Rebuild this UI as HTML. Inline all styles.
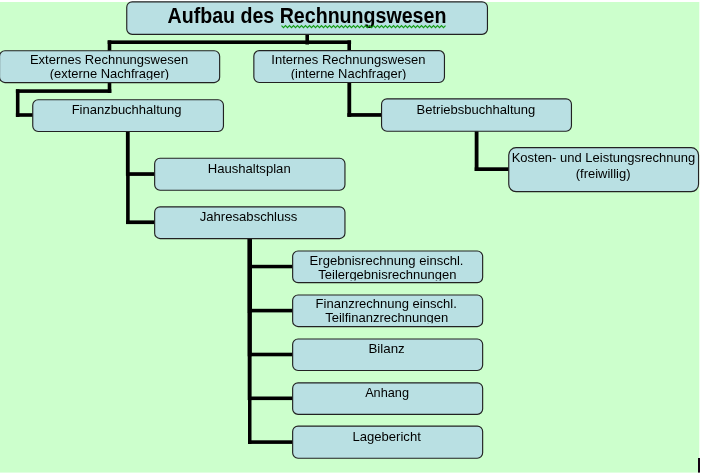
<!DOCTYPE html>
<html><head><meta charset="utf-8"><title>Aufbau des Rechnungswesen</title>
<style>
html,body{margin:0;padding:0;background:#fff;}
body{width:702px;height:476px;overflow:hidden;}
svg{display:block;will-change:transform;}
text{font-family:"Liberation Sans",sans-serif;fill:#000;}
.t{font-size:13.5px;}
.h{font-size:22px;font-weight:bold;}
.bx{fill:#b9e0e3;stroke:#222222;stroke-width:1.15;}
</style></head><body>
<svg width="702" height="476" viewBox="0 0 702 476">
<defs>
<clipPath id="c_ext"><rect x="-1.0" y="50.2" width="221.2" height="29.5"/></clipPath>
<clipPath id="c_int"><rect x="253.3" y="50.1" width="191.7" height="29.6"/></clipPath>
<clipPath id="c_erg"><rect x="292.1" y="250.4" width="191.1" height="30.2"/></clipPath>
<clipPath id="c_fir"><rect x="292.1" y="294.4" width="191.1" height="28.9"/></clipPath>
</defs>
<rect x="0" y="2" width="699.3" height="470.6" fill="#ccffcc"/>
<g fill="#000">
<rect x="305.4" y="33.5" width="3.6" height="11.0"/>
<rect x="107.7" y="40.4" width="243.4" height="3.6"/>
<rect x="107.7" y="40.4" width="3.6" height="10.5"/>
<rect x="347.4" y="40.4" width="3.6" height="10.5"/>
<rect x="107.7" y="82.0" width="3.6" height="10.9"/>
<rect x="15.9" y="89.3" width="95.4" height="3.6"/>
<rect x="15.9" y="89.3" width="3.6" height="27.6"/>
<rect x="15.9" y="113.2" width="17.0" height="3.6"/>
<rect x="347.4" y="82.0" width="3.8" height="34.8"/>
<rect x="347.4" y="113.1" width="34.2" height="3.7"/>
<rect x="125.9" y="130.8" width="3.8" height="45.0"/>
<rect x="126.1" y="175.0" width="3.6" height="49.0"/>
<rect x="126.0" y="172.2" width="28.8" height="3.7"/>
<rect x="126.1" y="220.4" width="28.6" height="3.7"/>
<rect x="474.7" y="130.6" width="3.8" height="40.4"/>
<rect x="474.7" y="167.3" width="34.2" height="3.7"/>
<rect x="247.4" y="238.2" width="4.6" height="74.2"/>
<rect x="247.5" y="312.0" width="4.4" height="44.2"/>
<rect x="247.7" y="356.0" width="3.9" height="44.1"/>
<rect x="248.0" y="400.0" width="3.5" height="44.0"/>
<rect x="248.0" y="264.8" width="44.8" height="3.5"/>
<rect x="248.0" y="308.8" width="44.8" height="3.6"/>
<rect x="248.0" y="352.7" width="44.8" height="3.6"/>
<rect x="248.0" y="396.5" width="44.8" height="3.6"/>
<rect x="248.0" y="440.3" width="44.8" height="3.6"/>
</g>
<rect class="bx" x="126.75" y="1.85" width="360.70" height="32.50" rx="5.4" ry="5.4"/>
<rect class="bx" x="-0.45" y="50.75" width="220.10" height="31.80" rx="5.4" ry="5.4"/>
<rect class="bx" x="253.85" y="50.65" width="190.60" height="31.80" rx="5.4" ry="5.4"/>
<rect class="bx" x="32.75" y="99.75" width="190.70" height="31.70" rx="5.4" ry="5.4"/>
<rect class="bx" x="381.55" y="98.85" width="189.90" height="32.40" rx="5.4" ry="5.4"/>
<rect class="bx" x="154.65" y="158.25" width="190.30" height="32.00" rx="5.4" ry="5.4"/>
<rect class="bx" x="508.75" y="147.65" width="189.80" height="44.00" rx="7.3" ry="7.3"/>
<rect class="bx" x="154.65" y="206.85" width="190.30" height="31.70" rx="5.4" ry="5.4"/>
<rect class="bx" x="292.65" y="250.95" width="190.00" height="31.70" rx="5.4" ry="5.4"/>
<rect class="bx" x="292.65" y="294.95" width="190.00" height="31.60" rx="5.4" ry="5.4"/>
<rect class="bx" x="292.65" y="338.95" width="190.00" height="31.50" rx="5.4" ry="5.4"/>
<rect class="bx" x="292.65" y="382.85" width="190.00" height="31.50" rx="5.4" ry="5.4"/>
<rect class="bx" x="292.65" y="426.05" width="190.00" height="32.20" rx="5.4" ry="5.4"/>
<text class="h" x="306.95" y="22.90" textLength="278.90" lengthAdjust="spacingAndGlyphs" text-anchor="middle">Aufbau des Rechnungswesen</text>
<polyline points="281.5,25.6 283.5,27.6 285.5,25.6 287.5,27.6 289.5,25.6 291.5,27.6 293.5,25.6 295.5,27.6 297.5,25.6 299.5,27.6 301.5,25.6 303.5,27.6 305.5,25.6 307.5,27.6 309.5,25.6 311.5,27.6 313.5,25.6 315.5,27.6 317.5,25.6 319.5,27.6 321.5,25.6 323.5,27.6 325.5,25.6 327.5,27.6 329.5,25.6 331.5,27.6 333.5,25.6 335.5,27.6 337.5,25.6 339.5,27.6 341.5,25.6 343.5,27.6 345.5,25.6 347.5,27.6 349.5,25.6 351.5,27.6 353.5,25.6 355.5,27.6 357.5,25.6 359.5,27.6 361.5,25.6 363.5,27.6 365.5,25.6 367.5,27.6 369.5,25.6 371.5,27.6 373.5,25.6 375.5,27.6 377.5,25.6 379.5,27.6 381.5,25.6 383.5,27.6 385.5,25.6 387.5,27.6 389.5,25.6 391.5,27.6 393.5,25.6 395.5,27.6 397.5,25.6 399.5,27.6 401.5,25.6 403.5,27.6 405.5,25.6 407.5,27.6 409.5,25.6 411.5,27.6 413.5,25.6 415.5,27.6 417.5,25.6 419.5,27.6 421.5,25.6 423.5,27.6 425.5,25.6 427.5,27.6 429.5,25.6 431.5,27.6 433.5,25.6 435.5,27.6 437.5,25.6 439.5,27.6 441.5,25.6 443.5,27.6 445.5,25.6" fill="none" stroke="#109a10" stroke-width="1.1"/>
<g clip-path="url(#c_ext)"><text class="t" x="109.05" y="64.00" textLength="158.19" lengthAdjust="spacingAndGlyphs" text-anchor="middle">Externes Rechnungswesen</text></g>
<g clip-path="url(#c_ext)"><text class="t" x="109.40" y="78.00" textLength="119.40" lengthAdjust="spacingAndGlyphs" text-anchor="middle">(externe Nachfrager)</text></g>
<g clip-path="url(#c_int)"><text class="t" x="348.36" y="64.00" textLength="154.05" lengthAdjust="spacingAndGlyphs" text-anchor="middle">Internes Rechnungswesen</text></g>
<g clip-path="url(#c_int)"><text class="t" x="348.54" y="78.00" textLength="115.62" lengthAdjust="spacingAndGlyphs" text-anchor="middle">(interne Nachfrager)</text></g>
<text class="t" x="126.57" y="113.90" textLength="109.85" lengthAdjust="spacingAndGlyphs" text-anchor="middle">Finanzbuchhaltung</text>
<text class="t" x="475.91" y="113.70" textLength="118.66" lengthAdjust="spacingAndGlyphs" text-anchor="middle">Betriebsbuchhaltung</text>
<text class="t" x="249.20" y="172.80" textLength="82.97" lengthAdjust="spacingAndGlyphs" text-anchor="middle">Haushaltsplan</text>
<text class="t" x="603.42" y="161.80" textLength="183.59" lengthAdjust="spacingAndGlyphs" text-anchor="middle">Kosten- und Leistungsrechnung</text>
<text class="t" x="603.15" y="177.70" textLength="54.70" lengthAdjust="spacingAndGlyphs" text-anchor="middle">(freiwillig)</text>
<text class="t" x="248.55" y="220.80" textLength="97.67" lengthAdjust="spacingAndGlyphs" text-anchor="middle">Jahresabschluss</text>
<g clip-path="url(#c_erg)"><text class="t" x="386.55" y="264.70" textLength="153.95" lengthAdjust="spacingAndGlyphs" text-anchor="middle">Ergebnisrechnung einschl.</text></g>
<g clip-path="url(#c_erg)"><text class="t" x="387.37" y="278.80" textLength="138.10" lengthAdjust="spacingAndGlyphs" text-anchor="middle">Teilergebnisrechnungen</text></g>
<g clip-path="url(#c_fir)"><text class="t" x="386.18" y="307.80" textLength="141.27" lengthAdjust="spacingAndGlyphs" text-anchor="middle">Finanzrechnung einschl.</text></g>
<g clip-path="url(#c_fir)"><text class="t" x="386.71" y="321.60" textLength="123.07" lengthAdjust="spacingAndGlyphs" text-anchor="middle">Teilfinanzrechnungen</text></g>
<text class="t" x="386.63" y="353.00" textLength="36.36" lengthAdjust="spacingAndGlyphs" text-anchor="middle">Bilanz</text>
<text class="t" x="387.07" y="396.80" textLength="43.89" lengthAdjust="spacingAndGlyphs" text-anchor="middle">Anhang</text>
<text class="t" x="386.61" y="441.00" textLength="68.40" lengthAdjust="spacingAndGlyphs" text-anchor="middle">Lagebericht</text>
<rect x="698" y="458" width="2" height="14.6" fill="#120012"/>
</svg>
</body></html>
